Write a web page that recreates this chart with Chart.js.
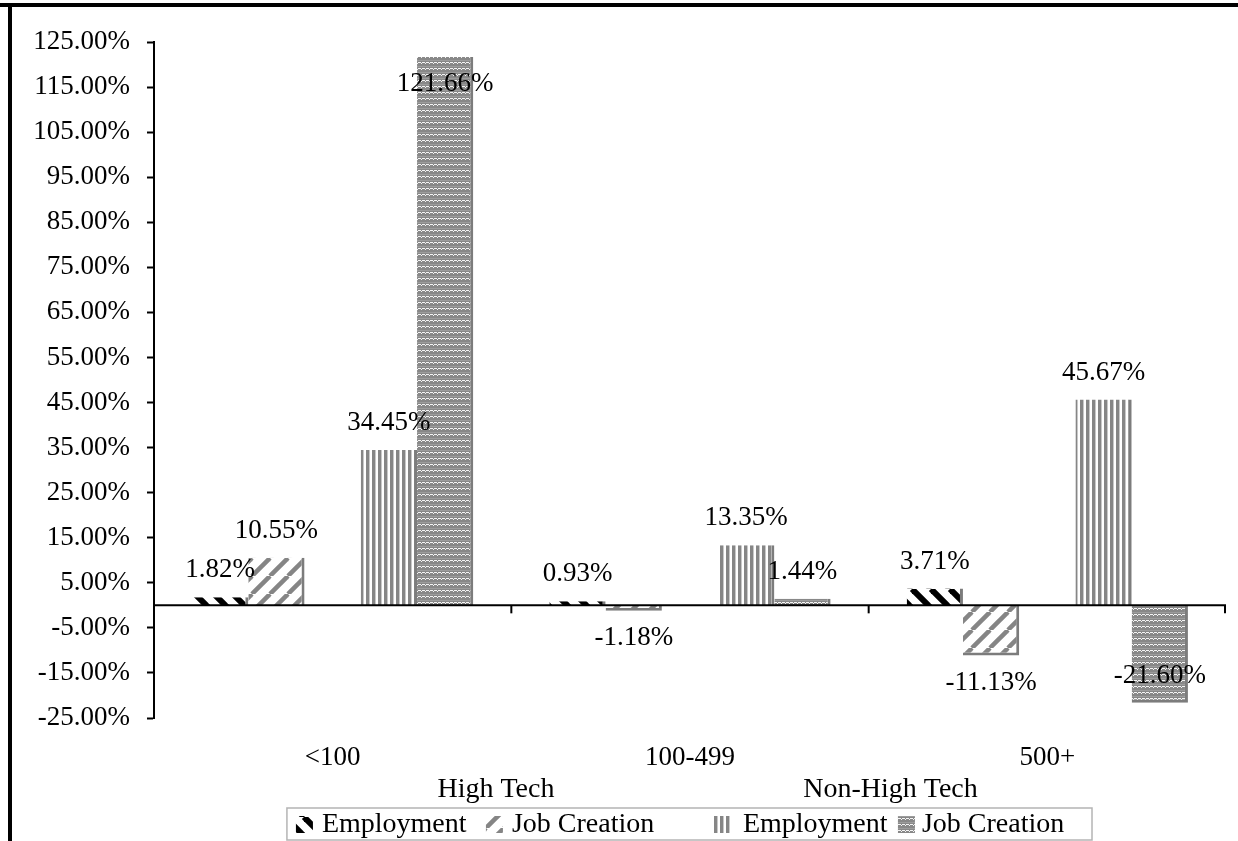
<!DOCTYPE html>
<html>
<head>
<meta charset="utf-8">
<script src="https://cdn.jsdelivr.net/npm/chart.js@4.4.1/dist/chart.umd.min.js"></script>
<style>
  html, body { margin: 0; padding: 0; background: #fff; }
  #wrap { position: absolute; left: 0; top: 0; width: 1238px; height: 841px; }
</style>
</head>
<body>
<div id="wrap"><canvas id="jobs-chart" width="1238" height="841"></canvas></div>
<script>
var categories = ['<100', '100-499', '500+'];
var groupLabels = ['High Tech', 'Non-High Tech'];
var seriesNames = ['Employment', 'Job Creation', 'Employment', 'Job Creation'];
var highTechEmployment = [1.82, 0.93, 3.71];
var highTechJobCreation = [10.55, -1.18, -11.13];
var nonHighTechEmployment = [34.45, 13.35, 45.67];
var nonHighTechJobCreation = [121.66, 1.44, -21.60];

var FONT = '"Liberation Serif", "Times New Roman", serif';

function makePattern(w, h, draw) {
    var c = document.createElement('canvas');
    c.width = w; c.height = h;
    var g = c.getContext('2d');
    draw(g, w, h);
    return g.createPattern(c, 'repeat');
}

// black "\\\" hatch
var patBlackDiag = makePattern(19, 19, function (g, w, h) {
    g.fillStyle = '#fff'; g.fillRect(0, 0, w, h);
    g.strokeStyle = '#000'; g.lineWidth = 6;
    for (var k = -1; k <= 1; k++) {
        g.beginPath(); g.moveTo(k * w, 0); g.lineTo(k * w + w, h); g.stroke();
    }
});
// gray "///" hatch
var patGrayDiag = makePattern(18, 18, function (g, w, h) {
    g.fillStyle = '#fff'; g.fillRect(0, 0, w, h);
    g.strokeStyle = '#858585'; g.lineWidth = 4.5;
    for (var k = -1; k <= 1; k++) {
        g.beginPath(); g.moveTo(k * w, h); g.lineTo(k * w + w, 0); g.stroke();
    }
});
// vertical stripes
var patVert = makePattern(6, 4, function (g, w, h) {
    g.fillStyle = '#fff'; g.fillRect(0, 0, w, h);
    g.fillStyle = '#868686'; g.fillRect(0, 0, 3, h);
    g.fillStyle = '#c8c8c8'; g.fillRect(3, 0, 1, h);
});
// gray with dotted white waves
var patWave = makePattern(8, 6, function (g, w, h) {
    g.fillStyle = '#888'; g.fillRect(0, 0, w, h);
    g.fillStyle = '#f4f4f4';
    for (var x = 0; x < w; x += 2) g.fillRect(x, 2, 1, 1);
    for (var x2 = 1; x2 < w; x2 += 2) g.fillRect(x2, (x2 % 4 === 1) ? 3 : 2, 1, 1);
    g.fillStyle = '#9c9c9c';
    g.fillRect(0, 0, w, 1);
});

var patterns = [patBlackDiag, patGrayDiag, patVert, patWave];

function barSet(label, data, pat) {
    return {
        label: label,
        data: data,
        backgroundColor: pat,
        borderColor: '#7c7c7c',
        borderWidth: { top: 0, left: 0, right: 3, bottom: 3 },
        borderSkipped: 'start'
    };
}

var frame = {
    id: 'frame',
    beforeDraw: function (chart) {
        var ctx = chart.ctx;
        ctx.save();
        ctx.fillStyle = '#fff';
        ctx.fillRect(0, 0, chart.width, chart.height);
        ctx.fillStyle = '#000';
        ctx.fillRect(0, 3, chart.width, 4);
        ctx.fillRect(8, 3, 4, chart.height);
        ctx.restore();
    }
};

var extras = {
    id: 'extras',
    afterDatasetsDraw: function (chart) {
        var ctx = chart.ctx, area = chart.chartArea;
        var x = chart.scales.x, y = chart.scales.y;
        var zero = y.getPixelForValue(0);
        ctx.save();
        // zero line with category boundary ticks
        ctx.strokeStyle = '#000'; ctx.lineWidth = 2;
        ctx.beginPath(); ctx.moveTo(area.left, zero); ctx.lineTo(area.right, zero); ctx.stroke();
        for (var i = 0; i < categories.length; i++) {
            var bx = (i < categories.length - 1)
                ? (x.getPixelForTick(i) + x.getPixelForTick(i + 1)) / 2
                : area.right - 1;
            ctx.beginPath(); ctx.moveTo(bx, zero); ctx.lineTo(bx, zero + 8); ctx.stroke();
        }
        // value labels
        ctx.font = '27px ' + FONT;
        ctx.fillStyle = '#000';
        ctx.textAlign = 'center'; ctx.textBaseline = 'middle';
        chart.data.datasets.forEach(function (ds, di) {
            if (!ds.label) return;
            var meta = chart.getDatasetMeta(di);
            meta.data.forEach(function (bar, j) {
                var v = ds.data[j];
                if (v === null) return;
                var ty = v >= 0 ? bar.y - 27 : bar.y + 27;
                if (ty - 14 < area.top) ty = bar.y + 27;
                if (ty + 14 > area.bottom) ty = bar.y - 27;
                ctx.fillText(v.toFixed(2) + '%', bar.x, ty);
            });
        });
        ctx.restore();
    },
    afterDraw: function (chart) {
        var ctx = chart.ctx, area = chart.chartArea;
        var w = area.right - area.left;
        ctx.save();
        ctx.fillStyle = '#000';
        ctx.textAlign = 'center'; ctx.textBaseline = 'middle';
        ctx.font = '28px ' + FONT;
        ctx.fillText(groupLabels[0], area.left + 0.319 * w, 790);
        ctx.fillText(groupLabels[1], area.left + 0.687 * w, 790);

        // legend box
        var boxL = area.left + 0.124 * w, boxR = area.left + 0.875 * w;
        ctx.strokeStyle = '#b4b4b4'; ctx.lineWidth = 1.5;
        ctx.strokeRect(boxL, 808, boxR - boxL, 32);
        var sw = [296, 486, 713, 898], tx = [322, 512, 743, 922];
        ctx.textAlign = 'left';
        ctx.font = '28px ' + FONT;
        for (var i = 0; i < seriesNames.length; i++) {
            var sx = boxL + (sw[i] - 287);
            ctx.fillStyle = patterns[i];
            ctx.fillRect(sx, 816, 17, 17);
            ctx.fillStyle = '#000';
            ctx.fillText(seriesNames[i], boxL + (tx[i] - 287), 825);
        }
        ctx.restore();
    }
};

var config = {
    type: 'bar',
    data: {
        labels: categories,
        datasets: [
            barSet('HT Employment', highTechEmployment, patBlackDiag),
            barSet('HT Job Creation', highTechJobCreation, patGrayDiag),
            { label: '', data: [null, null, null], backgroundColor: 'rgba(0,0,0,0)' },
            barSet('NHT Employment', nonHighTechEmployment, patVert),
            barSet('NHT Job Creation', nonHighTechJobCreation, patWave)
        ]
    },
    options: {
        responsive: false,
        animation: false,
        categoryPercentage: 0.787,
        barPercentage: 1.0,
        layout: { padding: { left: 12, right: 12, top: 42, bottom: 0 } },
        plugins: {
            legend: { display: false },
            tooltip: { enabled: false }
        },
        scales: {
            x: {
                grid: { display: false, drawTicks: false },
                border: { display: false },
                ticks: { color: '#000', font: { family: FONT, size: 27 }, padding: 24, maxRotation: 0 },
                afterFit: function (s) { s.height = 123; }
            },
            y: {
                min: -25,
                max: 125,
                ticks: {
                    stepSize: 10,
                    color: '#000',
                    padding: 17,
                    font: { family: FONT, size: 27 },
                    callback: function (v) { return v.toFixed(2) + '%'; }
                },
                grid: {
                    drawOnChartArea: false,
                    tickColor: '#000',
                    tickLength: 7,
                    tickWidth: 2
                },
                border: { display: true, color: '#000', width: 2 },
                afterFit: function (s) { s.width = 142; }
            }
        }
    },
    plugins: [frame, extras]
};

window.onload = function () {
    var ctx = document.getElementById('jobs-chart').getContext('2d');
    window.jobsChart = new Chart(ctx, config);
};
</script>
</body>
</html>
